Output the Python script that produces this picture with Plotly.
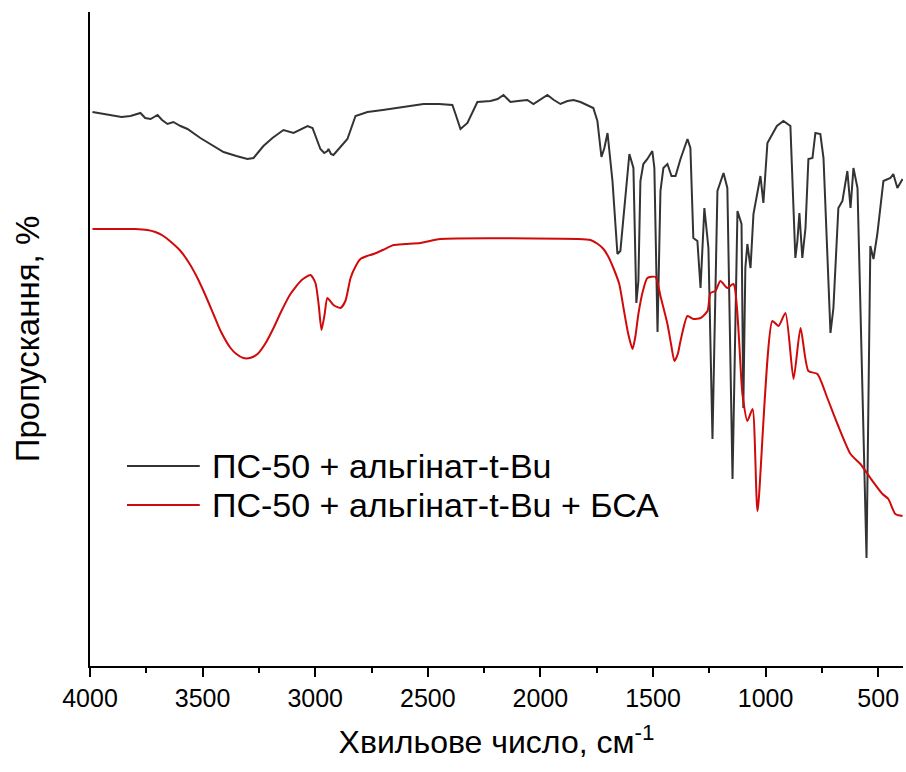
import plotly.graph_objects as go

# --- Data (wavenumber, cm-1 ; transmittance, arbitrary units) ---
wn_black = [3989, 3940, 3896, 3860, 3820, 3776, 3755, 3731, 3700, 3680, 3656, 3630, 3598, 3567,
            3510, 3452, 3407, 3350, 3301, 3274, 3230, 3190, 3141, 3096, 3060, 3034, 3012, 2977,
            2960, 2946, 2941, 2930, 2919, 2857, 2821, 2768, 2700, 2635, 2519, 2450, 2391,
            2377, 2355, 2324, 2280, 2222, 2190, 2164, 2133, 2100, 2058, 2031, 1969, 1940, 1911,
            1880, 1853, 1822, 1765,
            1747, 1729, 1716, 1702, 1680, 1658, 1645, 1622, 1605, 1587, 1574, 1565, 1556, 1543,
            1525, 1503, 1494, 1480, 1467, 1454, 1436, 1418, 1400, 1378, 1347, 1334, 1321, 1303,
            1289, 1272, 1254, 1236, 1214, 1187, 1170, 1147, 1125, 1107, 1099, 1090, 1081, 1067,
            1054, 1023, 1010, 992, 979, 950, 921, 890, 868, 859, 850, 837, 823, 810, 792, 779, 757,
            743, 712, 699, 677, 659, 637, 623, 610, 592, 552, 535, 521, 504, 477, 446, 433, 415, 392]
t_black = [554, 552, 550, 549, 550, 553, 548, 547, 551, 546, 542, 544, 540, 537,
           528, 520, 514, 510, 507, 508, 520, 528, 536, 533, 537, 540, 538, 517,
           513, 515, 517, 512, 511, 527, 550, 554, 556, 558, 562, 562, 561,
           552, 537, 543, 564, 565, 567, 571, 564, 565, 566, 562, 571, 566, 562,
           565, 566, 564, 558,
           545, 509, 518, 533, 485, 412, 415, 475, 512, 498, 363, 385, 485, 502,
           507, 515, 498, 334, 475, 498, 502, 490, 490, 507, 527, 518, 428, 425,
           378, 458, 418, 227, 475, 493, 478, 187, 455, 442, 258, 398, 422, 398,
           452, 490, 463, 523, 528, 540, 545, 540, 408, 425, 453, 408, 438, 507, 508, 533, 532,
           508, 333, 358, 458, 465, 495, 458, 498, 478, 108, 420, 407, 432, 485, 488, 492, 478, 487]

wn_red = [3989, 3800, 3745, 3710, 3674, 3640, 3598, 3560, 3523, 3490, 3452, 3420, 3376, 3350,
          3319, 3290, 3256, 3220, 3185, 3150, 3110, 3060, 3021, 2999, 2985, 2972,
          2958, 2946, 2919, 2888, 2866, 2843, 2820, 2799, 2770, 2741, 2700, 2652, 2600, 2533,
          2444, 1836, 1778, 1745, 1720, 1700, 1676, 1650,
          1631, 1610, 1591, 1578, 1565, 1545, 1525, 1489, 1467, 1436, 1420, 1405, 1390, 1378,
          1347, 1321, 1289, 1258, 1245,
          1223, 1201, 1170, 1143, 1103, 1081, 1058, 1036, 970, 943, 912, 876, 845, 810, 770,
          726, 681, 623, 579, 535, 481, 455, 424, 392]
t_red = [437, 437, 436, 434, 430, 424, 415, 403, 388, 372, 352, 335, 318, 312,
         308, 308, 312, 323, 338, 355, 372, 386, 391, 383, 362, 336,
         352, 368, 361, 358, 365, 388, 400, 407, 410, 412, 416, 421, 422, 423,
         427, 427, 426, 422, 417, 410, 398, 382,
         358, 332, 317, 330, 352, 375, 388, 389, 370, 342, 322, 305, 312, 325,
         350, 347, 348, 355, 373,
         375, 385, 378, 382, 272, 245, 257, 155, 345, 340, 353, 287, 338, 295, 292,
         268, 242, 212, 202, 188, 172, 167, 152, 150]

name_black = "ПС-50 + альгінат-t-Bu"
name_red = "ПС-50 + альгінат-t-Bu + БСА"
x_ticks = [4000, 3500, 3000, 2500, 2000, 1500, 1000, 500]

col_black = "#333333"
col_red = "#d00a0a"

fig = go.Figure()
fig.add_trace(go.Scatter(x=wn_black, y=t_black, mode="lines", name=name_black,
                         line=dict(color=col_black, width=2)))
fig.add_trace(go.Scatter(x=wn_red, y=t_red, mode="lines", name=name_red,
                         line=dict(color=col_red, width=2, shape="spline", smoothing=0.6)))

FONT = "Liberation Sans, Arial, sans-serif"

fig.update_layout(
    width=906, height=772,
    margin=dict(l=90, r=3, t=12, b=106),
    paper_bgcolor="white", plot_bgcolor="white",
    showlegend=False,
    font=dict(family=FONT, color="black"),
    xaxis=dict(
        range=[4000, 390], tickmode="array", tickvals=x_ticks,
        ticktext=[str(v) for v in x_ticks],
        showline=True, linecolor="black", linewidth=2,
        ticks="outside", ticklen=9, tickwidth=2, tickcolor="black",
        minor=dict(tickmode="linear", tick0=250, dtick=500, ticks="outside",
                   ticklen=5, tickwidth=2, tickcolor="black"),
        showgrid=False, zeroline=False,
        tickfont=dict(size=25, family=FONT, color="black"),
        title=dict(text="Хвильове число, см<sup>-1</sup>",
                   font=dict(size=32, family=FONT, color="black"), standoff=20),
    ),
    yaxis=dict(
        range=[0, 654], showline=True, linecolor="black", linewidth=2,
        showticklabels=False, ticks="", showgrid=False, zeroline=False,
        title=dict(text="Пропускання, %",
                   font=dict(size=33, family=FONT, color="black"), standoff=38),
    ),
)

# Legend drawn manually to match long line samples
legend_items = [(name_black, col_black, 0.306), (name_red, col_red, 0.246)]
for label, col, yy in legend_items:
    fig.add_shape(type="line", xref="paper", yref="paper", x0=0.0455, x1=0.135,
                  y0=yy, y1=yy, line=dict(color=col, width=2))
    fig.add_annotation(xref="paper", yref="paper", x=0.1476, y=yy, text=label,
                       showarrow=False, xanchor="left", yanchor="middle",
                       font=dict(size=34, family=FONT, color="black"))

fig.write_html("out.html")
